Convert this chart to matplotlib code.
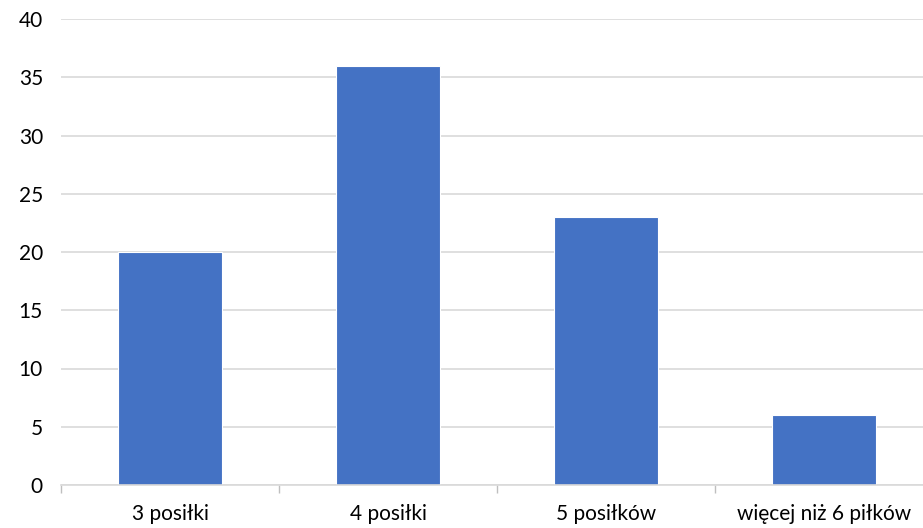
import matplotlib.pyplot as plt
import numpy as np

plt.rcParams['font.family'] = ['Lato', 'DejaVu Sans']

# dane
kategorie = ['3 posiłki', '4 posiłki', '5 posiłków', 'więcej niż 6 piłków']
wartosci = [20, 36, 23, 6]
y_ticks = [0, 5, 10, 15, 20, 25, 30, 35, 40]

fig = plt.figure(figsize=(9.23, 5.28), dpi=100)
ax = fig.add_axes([61 / 923, 43 / 528, 872 / 923, 466 / 528])

x = np.arange(len(kategorie))
ax.bar(x, wartosci, width=0.48, color='#4472C4', edgecolor='white', linewidth=0.8, zorder=3)

ax.set_xlim(-0.5, len(kategorie) - 0.5)
ax.set_ylim(0, 40)
ax.set_yticks(y_ticks)
ax.yaxis.grid(True, color='#d9d9d9', linewidth=1.2, zorder=0)

# etykiety kategorii i kreski na granicach
ax.set_xticks(x)
ax.set_xticklabels(kategorie, fontsize=15)
ax.set_xticks(np.arange(len(kategorie) + 1) - 0.5, minor=True)
ax.tick_params(axis='x', which='major', length=0, pad=14)
ax.tick_params(axis='x', which='minor', length=6, color='#bfbfbf', width=1)
ax.tick_params(axis='y', length=0, labelsize=15, pad=13)

for s in ['top', 'right', 'left']:
    ax.spines[s].set_visible(False)
ax.spines['bottom'].set_color('#d9d9d9')
ax.spines['bottom'].set_linewidth(1.2)
ax.spines['bottom'].set_zorder(4)

fig.savefig('out.png', dpi=100)
